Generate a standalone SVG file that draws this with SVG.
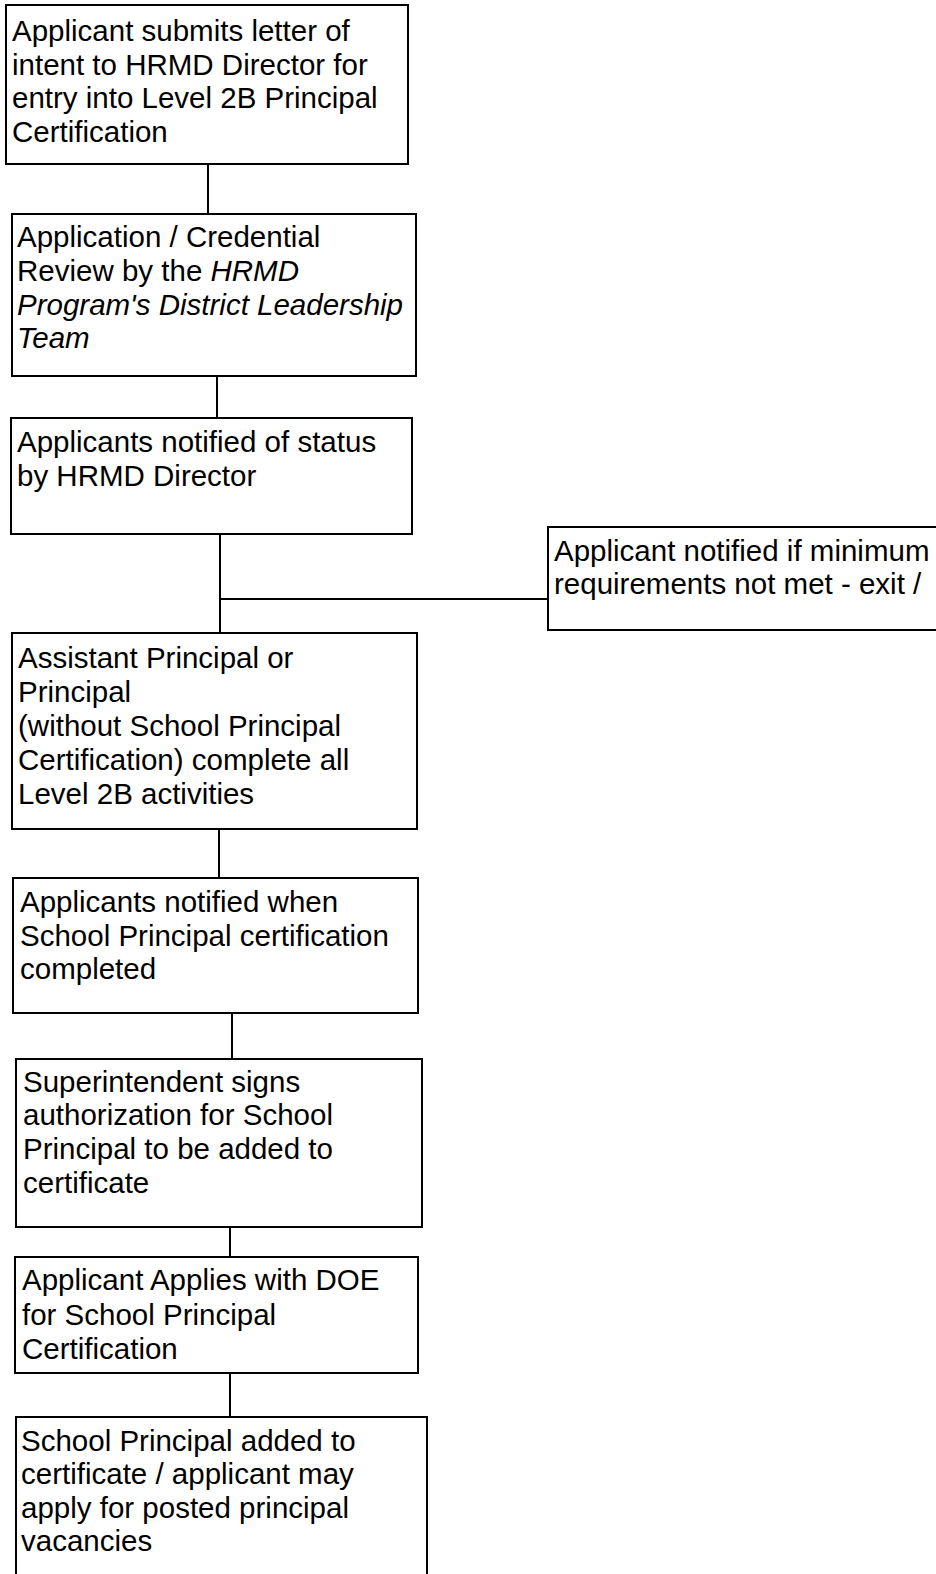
<svg xmlns="http://www.w3.org/2000/svg" width="936" height="1574" viewBox="0 0 936 1574">
<style>
.box{fill:#fff;stroke:#000;stroke-width:2}
.conn line{stroke:#000;stroke-width:2}
text{font-family:"Liberation Sans",Arial,sans-serif;font-size:29.5px;fill:#000}
.it{font-style:italic}
</style>
<rect x="0" y="0" width="936" height="1574" fill="#fff"/>
<g id="connectors" class="conn">
<line x1="208" y1="164" x2="208" y2="214"/>
<line x1="217" y1="376" x2="217" y2="418"/>
<line x1="220" y1="534" x2="220" y2="633"/>
<line x1="220" y1="599" x2="548" y2="599"/>
<line x1="219" y1="829" x2="219" y2="878"/>
<line x1="232" y1="1013" x2="232" y2="1059"/>
<line x1="230" y1="1227" x2="230" y2="1257"/>
<line x1="230" y1="1373" x2="230" y2="1417"/>
</g>
<g id="n1">
<rect class="box" x="6" y="5" width="402" height="159"/>
<text x="12" y="41">Applicant submits letter of</text>
<text x="12" y="74.5">intent to HRMD Director for</text>
<text x="12" y="108">entry into Level 2B Principal</text>
<text x="12" y="141.5">Certification</text>
</g>
<g id="n2">
<rect class="box" x="12" y="214" width="404" height="162"/>
<text x="17" y="247">Application / Credential</text>
<text x="17" y="281">Review by the <tspan class="it">HRMD</tspan></text>
<text x="17" y="315" class="it">Program's District Leadership</text>
<text x="17" y="348" class="it">Team</text>
</g>
<g id="n3">
<rect class="box" x="11" y="418" width="401" height="116"/>
<text x="17" y="452">Applicants notified of status</text>
<text x="17" y="486">by HRMD Director</text>
</g>
<g id="n4">
<rect class="box" x="548" y="527" width="400" height="103"/>
<text x="554" y="561">Applicant notified if minimum</text>
<text x="554" y="594">requirements not met - exit /</text>
</g>
<g id="n5">
<rect class="box" x="12" y="633" width="405" height="196"/>
<text x="18" y="668">Assistant Principal or</text>
<text x="18" y="702">Principal</text>
<text x="18" y="736">(without School Principal</text>
<text x="18" y="770">Certification) complete all</text>
<text x="18" y="804">Level 2B activities</text>
</g>
<g id="n6">
<rect class="box" x="13" y="878" width="405" height="135"/>
<text x="20" y="912">Applicants notified when</text>
<text x="20" y="946">School Principal certification</text>
<text x="20" y="979">completed</text>
</g>
<g id="n7">
<rect class="box" x="16" y="1059" width="406" height="168"/>
<text x="23" y="1092">Superintendent signs</text>
<text x="23" y="1125">authorization for School</text>
<text x="23" y="1159">Principal to be added to</text>
<text x="23" y="1193">certificate</text>
</g>
<g id="n8">
<rect class="box" x="15" y="1257" width="403" height="116"/>
<text x="22" y="1290">Applicant Applies with DOE</text>
<text x="22" y="1325">for School Principal</text>
<text x="22" y="1359">Certification</text>
</g>
<g id="n9">
<rect class="box" x="16" y="1417" width="411" height="170"/>
<text x="21" y="1451">School Principal added to</text>
<text x="21" y="1484">certificate / applicant may</text>
<text x="21" y="1518">apply for posted principal</text>
<text x="21" y="1551">vacancies</text>
</g>
</svg>
